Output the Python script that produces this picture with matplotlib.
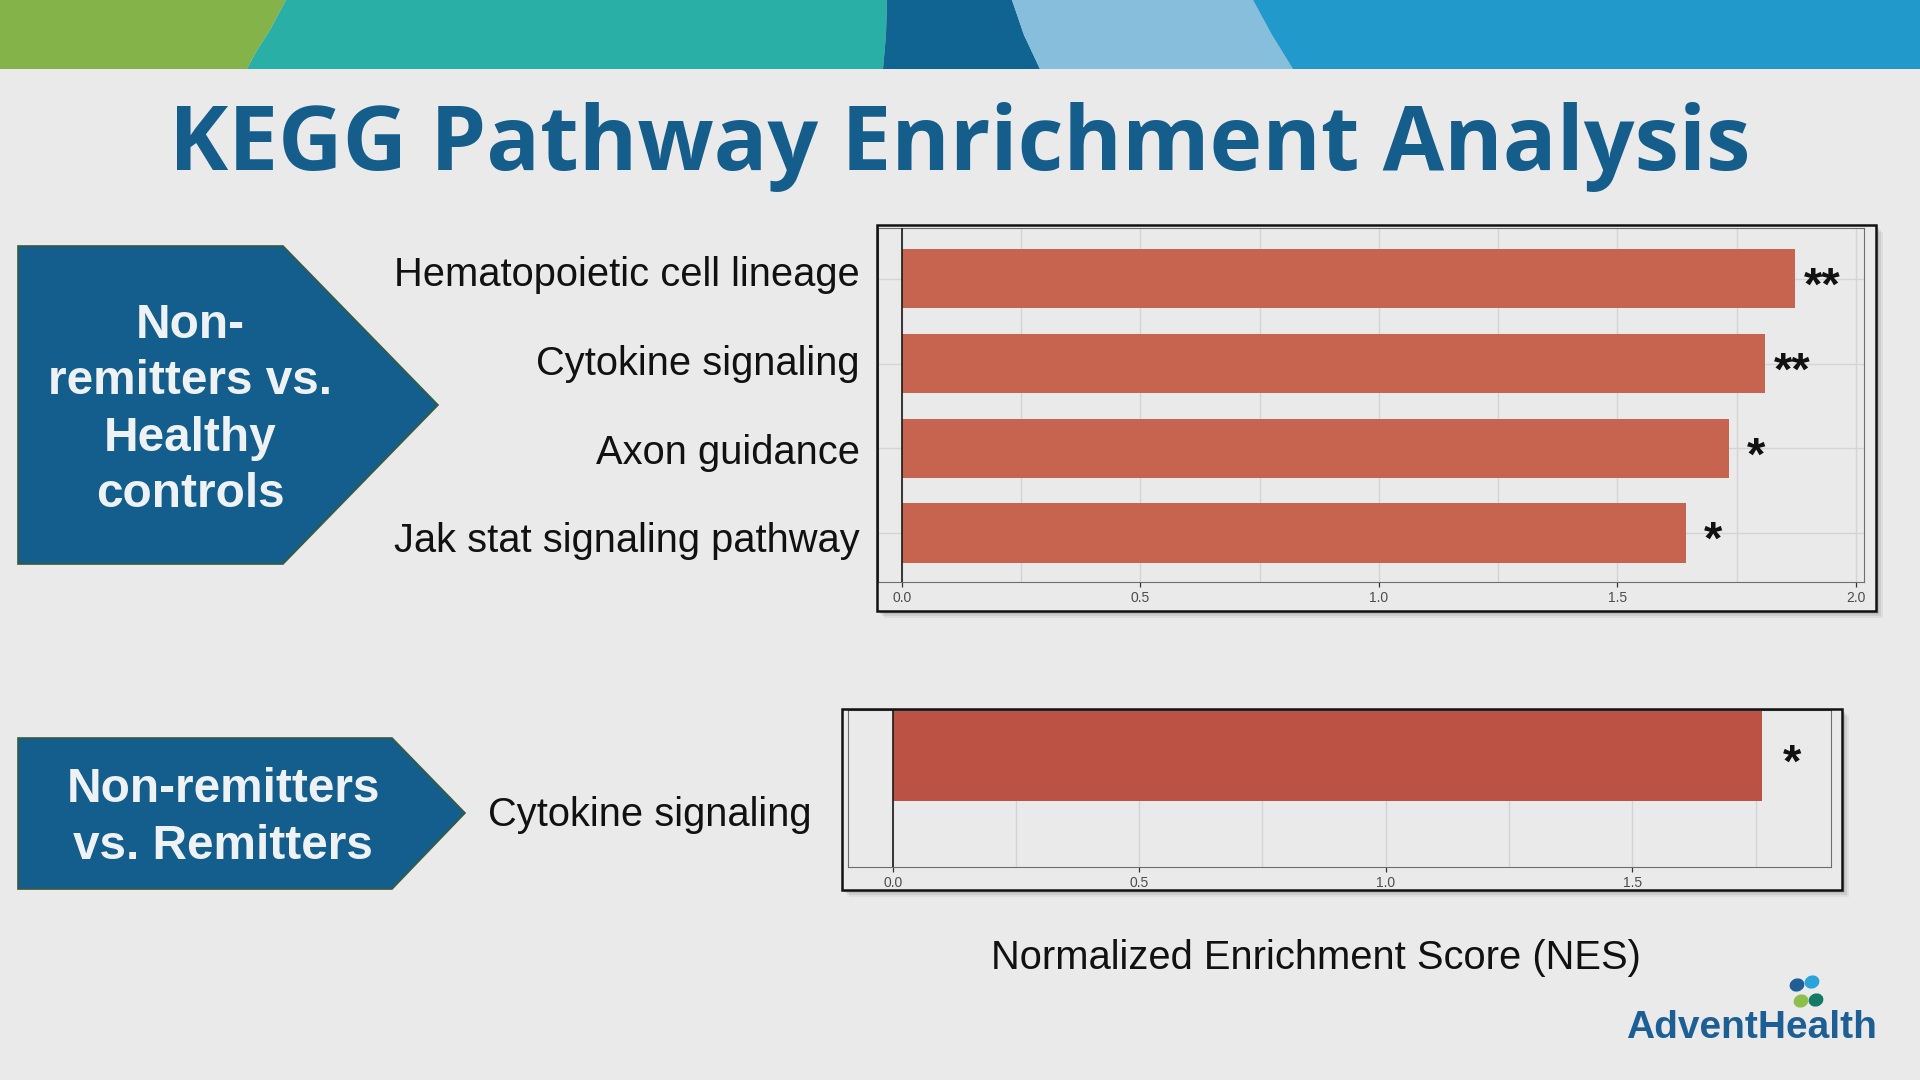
import numpy as np
import matplotlib.pyplot as plt
from matplotlib.patches import Polygon, Rectangle, Ellipse
from matplotlib.ticker import MultipleLocator
from matplotlib.transforms import offset_copy

# ------------------------------------------------------------
# datos
# ------------------------------------------------------------
title = "KEGG Pathway Enrichment Analysis"
xlabel = "Normalized Enrichment Score (NES)"
group_labels = ["Non-\nremitters vs.\nHealthy\ncontrols", "Non-remitters\nvs. Remitters"]

pathways_hc = ["Hematopoietic cell lineage", "Cytokine signaling", "Axon guidance",
               "Jak stat signaling pathway"]
nes_hc = [1.872, 1.810, 1.733, 1.644]
sig_hc = ["**", "**", "*", "*"]
ticks_hc = [0.0, 0.5, 1.0, 1.5, 2.0]

pathways_rem = ["Cytokine signaling"]
nes_rem = [1.763]
sig_rem = ["*"]
ticks_rem = [0.0, 0.5, 1.0, 1.5]

# ------------------------------------------------------------
# figura
# ------------------------------------------------------------
W, H = 1920, 1080
BG = "#EAEAEA"
NAVY = "#135E8C"

plt.rcParams["font.family"] = ["Liberation Sans", "DejaVu Sans"]
fig = plt.figure(figsize=(19.2, 10.8), dpi=100, facecolor=BG)


def px_axes(x0, y0, x1, y1, **kw):
    return fig.add_axes([x0 / W, 1 - y1 / H, (x1 - x0) / W, (y1 - y0) / H], **kw)


def overlay(z):
    ax = px_axes(0, 0, W, H, zorder=z)
    ax.set_xlim(0, W)
    ax.set_ylim(H, 0)
    ax.axis("off")
    return ax


bg = overlay(-1)
top = overlay(5)

# banda superior
band = [
    ("#84B34A", [(0, 0), (286, 0), (270, 30), (256, 52), (247, 69), (0, 69)]),
    ("#29AFA6", [(286, 0), (887, 0), (886, 35), (883, 69), (247, 69), (256, 52), (270, 30)]),
    ("#106491", [(887, 0), (1012, 0), (1024, 35), (1040, 69), (883, 69), (886, 35)]),
    ("#87BEDC", [(1012, 0), (1253, 0), (1272, 35), (1293, 69), (1040, 69), (1024, 35)]),
    ("#2199CA", [(1253, 0), (W, 0), (W, 69), (1293, 69), (1272, 35)]),
]
for c, pts in band:
    bg.add_patch(Polygon(pts, closed=True, fc=c, ec="none"))

# flechas de grupo
arrows = [
    [(18, 246), (283, 246), (438, 405), (283, 564), (18, 564)],
    [(18, 738), (392, 738), (465, 813), (392, 889), (18, 889)],
]
for pts in arrows:
    bg.add_patch(Polygon(pts, closed=True, fc=NAVY, ec="#3A5A3C", lw=1.2))
bg.text(190, 410, group_labels[0], ha="center", va="center", fontsize=34.4,
        fontweight="bold", color="#EEF2F5", linespacing=1.32)
bg.text(223, 818, group_labels[1], ha="center", va="center", fontsize=34.4,
        fontweight="bold", color="#EEF2F5", linespacing=1.32)

# marcos con sombra
frames = [(877, 225, 1876, 611), (842, 709, 1842, 890)]
for x0, y0, x1, y1 in frames:
    for k, a in [(7, 0.05), (5, 0.07), (3, 0.1)]:
        bg.add_patch(Rectangle((x0 + k, y0 + k), x1 - x0, y1 - y0, fc="k", alpha=a, lw=0))
    bg.add_patch(Rectangle((x0, y0), x1 - x0, y1 - y0, fc=BG, lw=0))
    top.add_patch(Rectangle((x0, y0), x1 - x0, y1 - y0, fill=False, ec="#111111", lw=1.8))


def style_panel(ax, ticks):
    ax.set_facecolor(BG)
    ax.set_xticks(ticks)
    ax.set_xticklabels([f"{t:.1f}" for t in ticks])
    ax.xaxis.set_minor_locator(MultipleLocator(0.25))
    ax.grid(which="both", axis="x", color="#D4D4D4", lw=1)
    ax.set_axisbelow(True)
    ax.tick_params(axis="x", which="major", length=3.6, width=0.9, color="#333333",
                   labelsize=10, labelcolor="#4D4D4D", pad=3)
    ax.tick_params(axis="x", which="minor", length=0)
    for sp in ax.spines.values():
        sp.set_color("#6E6E6E")
        sp.set_linewidth(0.8)
    ax.axvline(0, color="#1A1A1A", lw=1.2, zorder=3)


# ------------------------------------------------------------
# panel 1: Non-remitters vs Healthy controls
# ------------------------------------------------------------
ax1 = px_axes(878, 228, 1864, 582, zorder=1)
y1 = np.arange(len(pathways_hc))
ax1.barh(y1, nes_hc, height=0.7, color="#C7644F", zorder=2)
style_panel(ax1, ticks_hc)
ax1.set_xlim(-0.05, 2.017)
ax1.set_ylim(3.58, -0.6)
ax1.set_yticks(y1)
ax1.set_yticklabels([])
ax1.tick_params(axis="y", length=0)
ax1.grid(which="major", axis="y", color="#D4D4D4", lw=1)

# etiquetas de categoría (en la diapositiva van algo más separadas que las barras)
label_pos = np.linspace(0.879, 0.126, len(pathways_hc))
for yl, name in zip(label_pos, pathways_hc):
    ax1.annotate(name, xy=(0, yl), xycoords="axes fraction", xytext=(-13, 0),
                 textcoords="offset points", ha="right", va="center_baseline",
                 fontsize=28.7, color="#111111")

star_tr1 = offset_copy(ax1.transData, fig=fig, y=-15.2, units="points")
for yi, v, s in zip(y1, nes_hc, sig_hc):
    ax1.text(v + 0.057, yi, s, ha="center", va="baseline", fontsize=34,
             fontweight="bold", color="#111111", transform=star_tr1)

# ------------------------------------------------------------
# panel 2: Non-remitters vs Remitters
# ------------------------------------------------------------
ax2 = px_axes(848, 710, 1831, 867, zorder=1)
y2 = np.arange(len(pathways_rem))
ax2.barh(y2, nes_rem, height=0.7, color="#BB5243", zorder=2)
style_panel(ax2, ticks_rem)
ax2.set_xlim(-0.0905, 1.903)
ax2.set_ylim(0.852, -0.35)
ax2.set_yticks([])
ax2.annotate(pathways_rem[0], xy=(0, 0.261), xycoords="axes fraction", xytext=(-26, 0),
             textcoords="offset points", ha="right", va="baseline", fontsize=28.7,
             color="#111111")

star_tr2 = offset_copy(ax2.transData, fig=fig, y=-15.2, units="points")
for yi, v, s in zip(y2, nes_rem, sig_rem):
    ax2.text(v + 0.062, yi, s, ha="center", va="baseline", fontsize=34,
             fontweight="bold", color="#111111", transform=star_tr2)

# ------------------------------------------------------------
# textos
# ------------------------------------------------------------
top.text(960, 170, title, ha="center", va="baseline", fontsize=64.2, fontweight="bold",
         color="#155E8C", family=["Open Sans", "DejaVu Sans"])
top.text(1316, 969, xlabel, ha="center", va="baseline", fontsize=28.7, color="#111111")

# logo
top.text(1877, 1038, "AdventHealth", ha="right", va="baseline", fontsize=28,
         fontweight="bold", color="#1D5F95")
leaves = [(1797, 985, "#1F5F95"), (1812, 982, "#29A3DB"),
          (1801, 1001, "#8DC04B"), (1816, 1000, "#137A66")]
for cx, cy, c in leaves:
    top.add_patch(Ellipse((cx, cy), 15, 13, angle=-20, fc=c, ec="none"))

fig.savefig("out.png", dpi=100, facecolor=BG)
